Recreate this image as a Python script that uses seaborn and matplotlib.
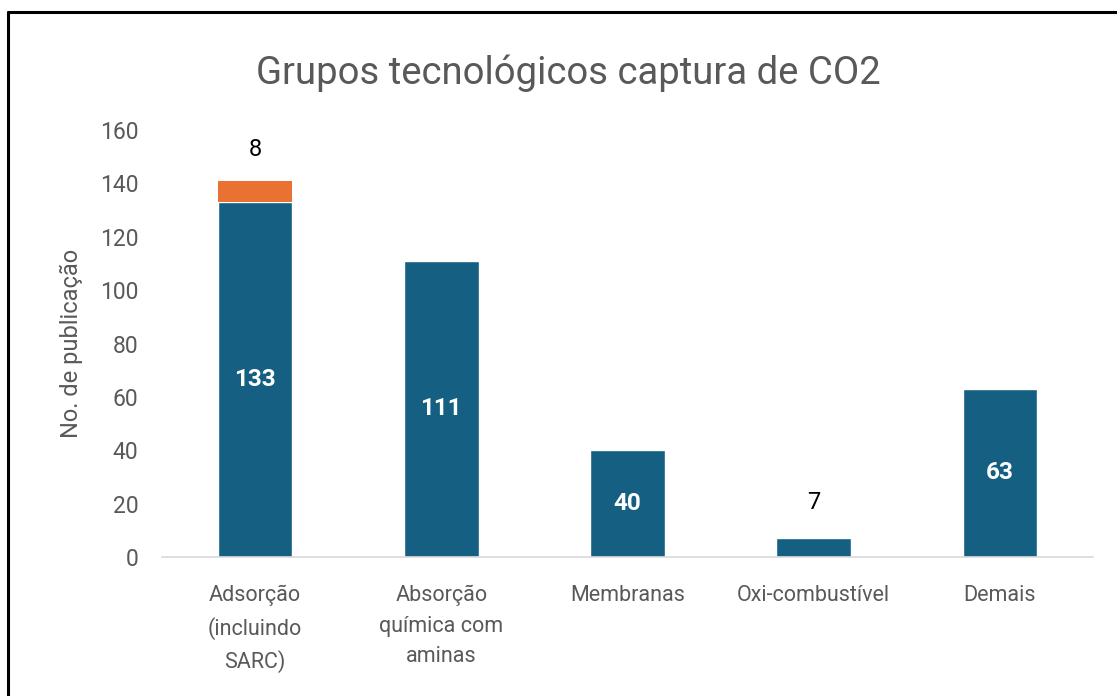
import matplotlib
matplotlib.use("Agg")
import matplotlib.pyplot as plt
import seaborn as sns
import pandas as pd
from matplotlib.lines import Line2D

categories = ["Adsorção\n(incluindo\nSARC)", "Absorção\nquímica com\naminas",
              "Membranas", "Oxi-combustível", "Demais"]
base_values = [133, 111, 40, 7, 63]
extra_values = [8, 0, 0, 0, 0]
yticks = [0, 20, 40, 60, 80, 100, 120, 140, 160]

BLUE = "#156082"
ORANGE = "#E97132"
GRAY = "#595959"

sns.set_theme(style="white")
plt.rcParams["font.family"] = ["Roboto", "DejaVu Sans"]

fig = plt.figure(figsize=(11.17, 6.96), dpi=100)
ax = fig.add_axes([0.145, 0.1997, 0.8335, 0.6135])

df = pd.DataFrame({"cat": categories, "base": base_values, "extra": extra_values})
sns.barplot(data=df, x="cat", y="base", color=BLUE, saturation=1, width=0.4, ax=ax)
xs = list(range(len(categories)))
ax.bar([x for x, e in zip(xs, extra_values) if e > 0],
       [e for e in extra_values if e > 0],
       bottom=[b for b, e in zip(base_values, extra_values) if e > 0],
       width=0.4, color=ORANGE, linewidth=0)

for x, b, e in zip(xs, base_values, extra_values):
    if b >= 20:
        ax.text(x, b / 2, str(b), ha="center", va="center", color="white",
                fontsize=17.5, fontweight="bold")
    else:
        ax.text(x, b + 9, str(b), ha="center", va="bottom", color="black",
                fontsize=17)
    if e > 0:
        ax.text(x, b + e + 7.5, str(e), ha="center", va="bottom", color="black",
                fontsize=17)

ax.set_xlim(-0.5, 4.5)
ax.set_ylim(0, 160)
ax.set_yticks(yticks)
ax.set_yticklabels([str(v) for v in yticks])
ax.tick_params(axis="y", length=0, pad=17, labelsize=16.5, labelcolor=GRAY)
ax.tick_params(axis="x", length=0, pad=20, labelsize=15.5, labelcolor=GRAY)
for lbl in ax.get_xticklabels():
    lbl.set_linespacing(1.6)
ax.set_xlabel("")
ax.set_ylabel("No. de publicação", fontsize=17, color=GRAY, labelpad=12)
for s in ["top", "right", "left"]:
    ax.spines[s].set_visible(False)
ax.spines["bottom"].set_color("#D9D9D9")
ax.spines["bottom"].set_linewidth(1.2)

fig.text(0.509, 0.895, "Grupos tecnológicos captura de CO2", ha="center", va="center",
         fontsize=27.5, color=GRAY)

# outer frame (top and left edges visible)
fig.add_artist(Line2D([0.0075, 1.0], [0.983, 0.983], color="black", lw=2.2,
                      transform=fig.transFigure))
fig.add_artist(Line2D([0.0075, 0.0075], [0.0, 0.983], color="black", lw=2.2,
                      transform=fig.transFigure))

fig.savefig("out.png", dpi=100)
